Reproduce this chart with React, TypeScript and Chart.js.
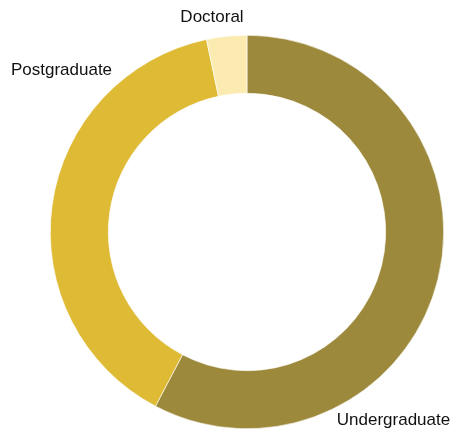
import { useEffect, useRef } from "react";
import { Chart, registerables } from "chart.js";

Chart.register(...registerables);

const categories = ["Undergraduate", "Postgraduate", "Doctoral"];
const shares = [57.7, 39.0, 3.3];
const colors = ["#9C893B", "#DEBA35", "#FCEBB0"];

// label centre offsets from doughnut centre (layout only)
const labelOffsets: [number, number][] = [
  [146.5, 188],
  [-185.5, -162],
  [-35, -214.5],
];

const outerLabels = {
  id: "outerLabels",
  afterDraw(chart: any) {
    const meta = chart.getDatasetMeta(0);
    const ctx = chart.ctx;
    ctx.save();
    ctx.font = "17px 'Liberation Sans', Arial, sans-serif";
    ctx.fillStyle = "#111";
    ctx.textAlign = "center";
    ctx.textBaseline = "middle";
    meta.data.forEach((arc: any, i: number) => {
      const [dx, dy] = labelOffsets[i];
      ctx.fillText(chart.data.labels[i], arc.x + dx, arc.y + dy);
    });
    ctx.restore();
  },
};

export default function App() {
  const ref = useRef<HTMLCanvasElement>(null);
  useEffect(() => {
    const chart = new Chart(ref.current!, {
      type: "doughnut",
      data: {
        labels: categories,
        datasets: [
          {
            data: shares,
            backgroundColor: colors,
            borderColor: "#ffffff",
            borderWidth: 0.6,
          },
        ],
      },
      options: {
        responsive: false,
        animation: false,
        cutout: "70.5%",
        layout: { padding: { left: 50, right: 10, top: 35, bottom: 7 } },
        plugins: {
          legend: { display: false },
          tooltip: { enabled: false },
        },
      },
      plugins: [outerLabels],
    });
    return () => chart.destroy();
  }, []);
  return (
    <div style={{ position: "fixed", left: 0, top: 0, width: 454, height: 436, background: "#fff" }}>
      <canvas ref={ref} width={454} height={436} />
    </div>
  );
}
